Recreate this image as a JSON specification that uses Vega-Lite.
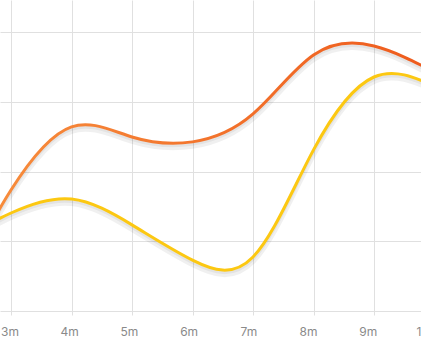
{
  "$schema": "https://vega.github.io/schema/vega-lite/v6.json",
  "width": 421,
  "height": 311,
  "autosize": {"type": "none"},
  "padding": {"left": 0, "top": 0, "right": 0, "bottom": 44},
  "background": "white",
  "config": {"view": {"stroke": null}},
  "data": {"values": [
    {"month": 2, "series": "A", "value": 3.2},
    {"month": 3, "series": "A", "value": 34.7},
    {"month": 4, "series": "A", "value": 52.8},
    {"month": 5, "series": "A", "value": 49.9},
    {"month": 6, "series": "A", "value": 48.5},
    {"month": 7, "series": "A", "value": 56.5},
    {"month": 8, "series": "A", "value": 73.4},
    {"month": 9, "series": "A", "value": 76.0},
    {"month": 10, "series": "A", "value": 68.5},
    {"month": 2, "series": "B", "value": 18.9},
    {"month": 3, "series": "B", "value": 28.1},
    {"month": 4, "series": "B", "value": 32.1},
    {"month": 5, "series": "B", "value": 24.7},
    {"month": 6, "series": "B", "value": 14.6},
    {"month": 7, "series": "B", "value": 15.5},
    {"month": 8, "series": "B", "value": 46.2},
    {"month": 9, "series": "B", "value": 67.1},
    {"month": 10, "series": "B", "value": 64.5}
  ]},
  "layer": [
    {
      "encoding": {
        "x": {"field": "month", "type": "quantitative",
          "scale": {"domain": [2.81818, 10], "range": [0, 434.5], "nice": false, "zero": false},
          "axis": {"title": null, "values": [3, 4, 5, 6, 7, 8, 9, 10], "labels": false, "domain": false,
            "grid": true, "gridColor": "#e0e0e0", "gridWidth": 1,
            "ticks": true, "tickSize": 4, "tickColor": "#e0e0e0"}},
        "y": {"field": "value", "type": "quantitative",
          "scale": {"domain": [0, 89.18], "nice": false, "zero": false},
          "axis": {"title": null, "values": [0, 20, 40, 60, 80], "labels": false, "domain": false, "ticks": false,
            "grid": true, "gridColor": "#e0e0e0", "gridWidth": 1}}
      },
      "layer": [
        {"transform": [{"filter": "datum.series === 'A'"}],
         "mark": {"type": "line", "interpolate": "natural", "clip": true, "stroke": "#000000", "strokeOpacity": 0.06, "strokeWidth": 6, "yOffset": 4}},
        {"transform": [{"filter": "datum.series === 'B'"}],
         "mark": {"type": "line", "interpolate": "natural", "clip": true, "stroke": "#000000", "strokeOpacity": 0.06, "strokeWidth": 6, "yOffset": 4}},
        {"transform": [{"filter": "datum.series === 'A'"}],
         "mark": {"type": "line", "interpolate": "natural", "clip": true, "stroke": "#000000", "strokeOpacity": 0.05, "strokeWidth": 3, "yOffset": 2.5}},
        {"transform": [{"filter": "datum.series === 'B'"}],
         "mark": {"type": "line", "interpolate": "natural", "clip": true, "stroke": "#000000", "strokeOpacity": 0.05, "strokeWidth": 3, "yOffset": 2.5}},
        {"transform": [{"filter": "datum.series === 'A'"}],
         "mark": {"type": "line", "interpolate": "natural", "clip": true, "strokeWidth": 3, "strokeCap": "round",
           "stroke": {"gradient": "linear", "x1": 0, "x2": 1, "y1": 0, "y2": 0,
             "stops": [{"offset": 0, "color": "#F8913F"}, {"offset": 1, "color": "#EE5A1C"}]}}},
        {"transform": [{"filter": "datum.series === 'B'"}],
         "mark": {"type": "line", "interpolate": "natural", "clip": true, "strokeWidth": 3, "strokeCap": "round", "stroke": "#FCC812"}}
      ]
    },
    {
      "mark": {"type": "point", "opacity": 0},
      "encoding": {
        "x": {"field": "month", "type": "quantitative",
          "scale": {"domain": [3, 10], "range": [9.5, 427.5], "nice": false, "zero": false},
          "axis": {"orient": "bottom", "title": null, "values": [3, 4, 5, 6, 7, 8, 9, 10], "labelExpr": "datum.value + 'm'",
            "domain": false, "grid": false, "ticks": false, "tickSize": 0,
            "labelFont": "Inter", "labelFontSize": 12, "labelColor": "#8a8a8a", "labelPadding": 15,
            "labelOverlap": false, "labelFlush": false}},
        "y": {"field": "value", "type": "quantitative"}
      }
    }
  ],
  "resolve": {"scale": {"x": "independent"}, "axis": {"x": "independent"}}
}
